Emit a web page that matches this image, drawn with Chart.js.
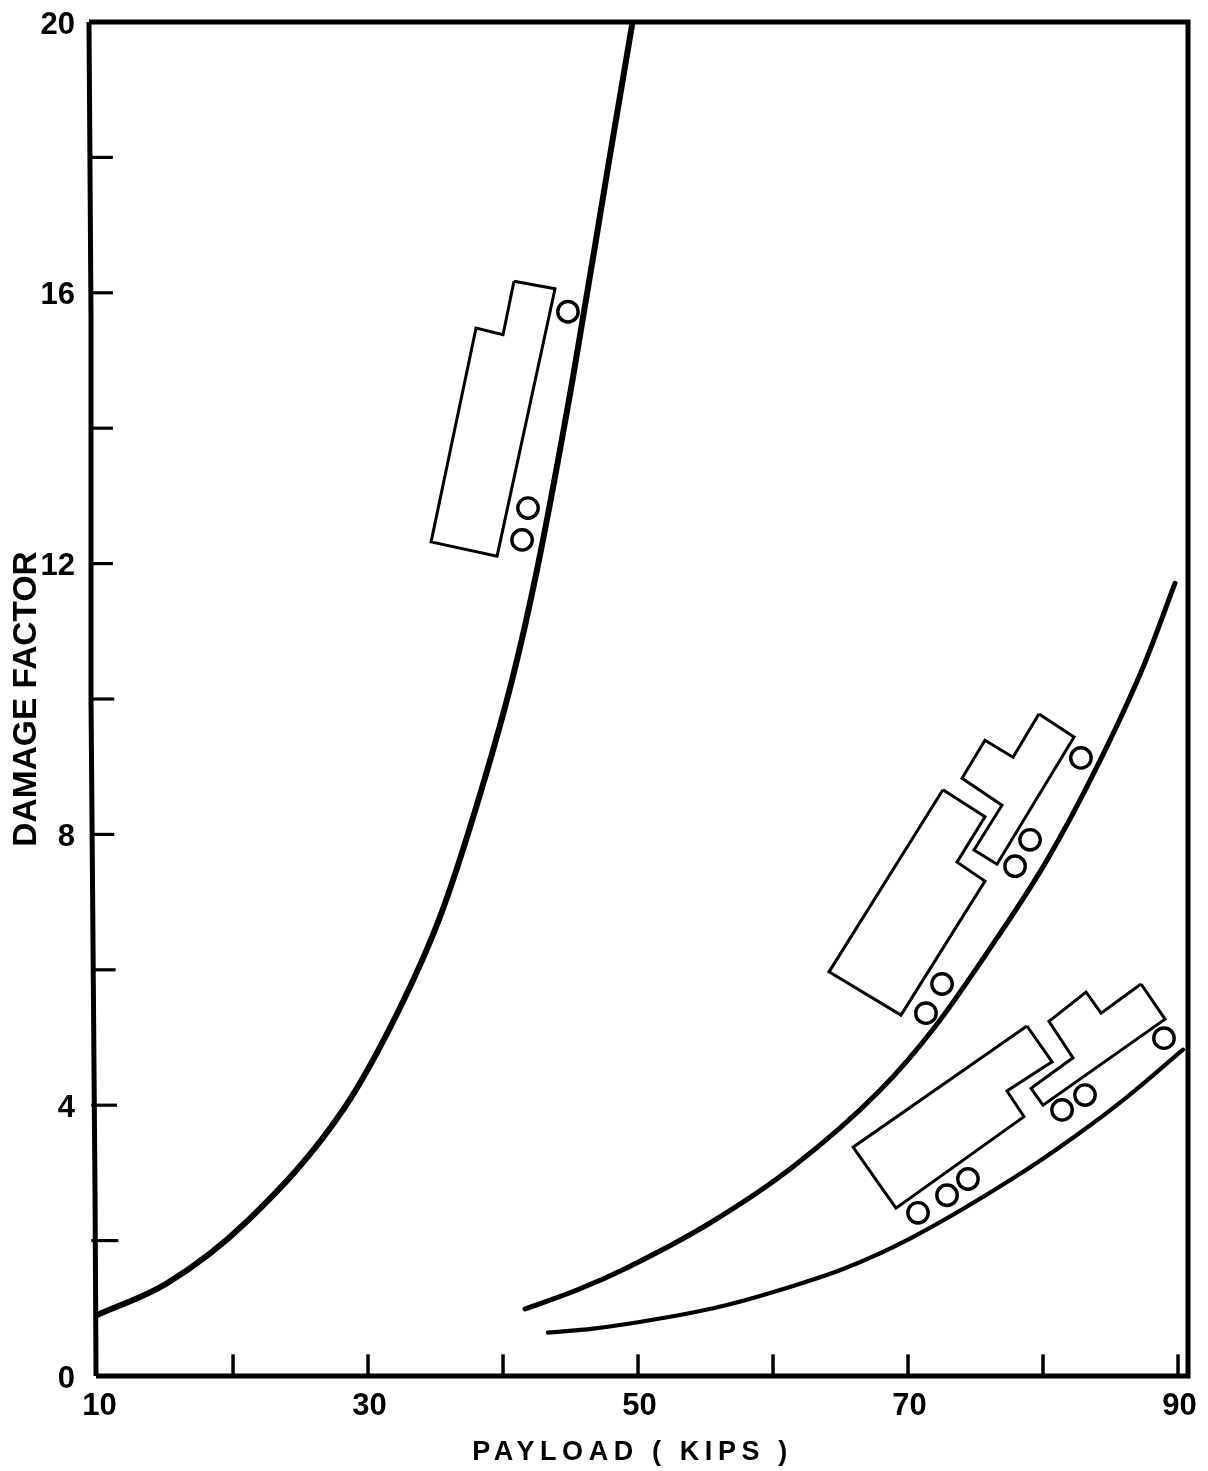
<!DOCTYPE html>
<html>
<head>
<meta charset="utf-8">
<title>Damage factor vs payload</title>
<style>
  html, body { margin: 0; padding: 0; background: #fff; }
  canvas { display: block; }
</style>
<script src="https://cdn.jsdelivr.net/npm/chart.js@4/dist/chart.umd.min.js"></script>
</head>
<body>
<canvas id="grafico" width="1208" height="1471"></canvas>
<script>
/* =========================
   DATA
========================= */
const xLabels = [10, 30, 50, 70, 90];
const yLabels = [0, 4, 8, 12, 16, 20];
const xMarks = [20, 30, 40, 50, 60, 70, 80, 90];
const yMarks = [2, 4, 6, 8, 10, 12, 14, 16, 18];
const yMarkEnd = [11.5, 11.4, 11.3, 11.2, 11.2, 11.1, 11.1, 11.1, 11.1];

const curveAx = [9.93, 15.11, 21.11, 28.15, 32.37, 35.33, 37.78, 40.67, 42.52, 45.19, 47.78, 49.56];
const curveAy = [0.9, 1.37, 2.3, 3.93, 5.44, 6.78, 8.25, 10.28, 11.91, 14.76, 17.86, 19.96];

const curveBx = [41.63, 45.48, 49.19, 55.33, 61.48, 67.93, 72, 75.85, 80.3, 84, 87.41, 89.78];
const curveBy = [0.99, 1.27, 1.6, 2.26, 3.09, 4.22, 5.16, 6.25, 7.62, 9, 10.47, 11.71];

const curveCx = [43.33, 46.67, 51.63, 56.59, 61.48, 65.19, 70.15, 77.78, 82.22, 86.22, 90.37];
const curveCy = [0.64, 0.7, 0.85, 1.05, 1.33, 1.58, 2.03, 2.92, 3.52, 4.12, 4.82];

// truck silhouettes
const truck1x = [40.81, 43.85, 39.56, 34.67, 38, 40, 40.81];
const truck1y = [16.17, 16.06, 12.11, 12.32, 15.48, 15.38, 16.17];
const wheels1x = [44.81, 41.85, 41.41];
const wheels1y = [15.72, 12.82, 12.35];

const trailer2x = [72.59, 75.7, 73.63, 75.7, 69.48, 64.15, 72.59];
const trailer2y = [8.66, 8.26, 7.59, 7.31, 5.33, 5.97, 8.66];
const tractor2x = [79.7, 82.3, 76.59, 74.89, 76.96, 74, 75.7, 77.78, 79.7];
const tractor2y = [9.78, 9.44, 7.56, 7.77, 8.43, 8.83, 9.39, 9.14, 9.78];
const wheels2x = [72.52, 71.33, 79.04, 77.93, 82.81];
const wheels2y = [5.79, 5.36, 7.92, 7.53, 9.13];

const trailer3x = [78.81, 80.67, 77.33, 78.59, 69.11, 65.93, 78.81];
const trailer3y = [5.17, 4.64, 4.21, 3.83, 2.48, 3.38, 5.17];
const tractor3x = [87.26, 89.04, 80, 79.11, 82.22, 80.44, 83.19, 84.3, 87.26];
const tractor3y = [5.79, 5.27, 4, 4.25, 4.7, 5.24, 5.67, 5.36, 5.79];
const wheels3x = [70.74, 72.89, 74.44, 81.41, 83.11, 88.96];
const wheels3y = [2.41, 2.67, 2.91, 3.93, 4.15, 4.99];

// hand drawn frame, the left edge leans a little
const leftEdgeX = [9.33, 9.48, 9.48, 9.78, 9.85];
const leftEdgeY = [20, 15.6, 10, 2.6, 0];
const restEdgeX = [9.33, 90.74, 90.74, 9.85];
const restEdgeY = [20, 20, 0, 0];

const X_MIN = 9.33, X_MAX = 90.74;
const INK = "#000";

/* =========================
   HELPERS
========================= */
function pts(xs, ys) {
  return xs.map((x, i) => ({ x, y: ys[i] }));
}

function linha(xs, ys, width, curva) {
  return {
    data: pts(xs, ys),
    showLine: true,
    borderColor: INK,
    borderWidth: width,
    pointRadius: 0,
    clip: false,
    borderCapStyle: curva ? "round" : "butt",
    borderJoinStyle: "miter",
    cubicInterpolationMode: curva ? "monotone" : "default",
    tension: 0
  };
}

function rodas(xs, ys) {
  return {
    data: pts(xs, ys),
    showLine: false,
    pointStyle: "circle",
    pointRadius: 10.2,
    pointBorderWidth: 3.4,
    pointBorderColor: INK,
    pointBackgroundColor: "rgba(255,255,255,0)",
    clip: false
  };
}

const datasets = [
  linha(leftEdgeX, leftEdgeY, 5),
  linha(restEdgeX, restEdgeY, 5),
  ...xMarks.map(v => linha([v, v], [0, 0.32], 3.5)),
  ...yMarks.map((v, i) => linha([9.5, yMarkEnd[i]], [v, v], 3.2)),
  linha(curveAx, curveAy, 6, true),
  linha(curveBx, curveBy, 5, true),
  linha(curveCx, curveCy, 4.2, true),
  linha(truck1x, truck1y, 3),
  linha(trailer2x, trailer2y, 3),
  linha(tractor2x, tractor2y, 3),
  linha(trailer3x, trailer3y, 3),
  linha(tractor3x, tractor3y, 3),
  rodas(wheels1x, wheels1y),
  rodas(wheels2x, wheels2y),
  rodas(wheels3x, wheels3y)
];

// the x title is widely lettered and sits left of centre
const tituloEspacado = {
  id: "tituloEspacado",
  beforeDraw(chart) {
    const s = chart.scales.x;
    if (s._espacado) return;
    s._espacado = true;
    const orig = s.drawTitle;
    s.drawTitle = function () {
      const ctx = this.ctx;
      ctx.save();
      ctx.letterSpacing = "5.6px";
      ctx.translate(-6, 0);
      orig.call(this);
      ctx.restore();
    };
  }
};

new Chart(document.getElementById("grafico"), {
  type: "scatter",
  data: { datasets },
  plugins: [tituloEspacado],
  options: {
    responsive: false,
    animation: false,
    devicePixelRatio: 1,
    layout: { padding: { top: 22, right: 20, left: 0, bottom: 0 } },
    plugins: { legend: { display: false }, tooltip: { enabled: false } },
    scales: {
      x: {
        type: "linear",
        min: X_MIN,
        max: X_MAX,
        afterBuildTicks: s => { s.ticks = xLabels.map(value => ({ value })); },
        afterFit: s => { s.height = 95; s.paddingLeft = 0; s.paddingRight = 0; },
        grid: { display: false, drawTicks: false },
        border: { display: false },
        ticks: {
          autoSkip: false,
          maxRotation: 0,
          padding: 12,
          labelOffset: 1.5,
          color: INK,
          font: { family: "Liberation Sans", size: 31, weight: "bold" }
        },
        title: {
          display: true,
          text: "PAYLOAD ( KIPS )",
          color: INK,
          padding: { top: 0, bottom: 2 },
          font: { family: "Liberation Sans", size: 27, weight: "bold" }
        }
      },
      y: {
        type: "linear",
        min: 0,
        max: 20,
        afterBuildTicks: s => { s.ticks = yLabels.map(value => ({ value })); },
        afterFit: s => { s.width = 89; s.paddingTop = 0; s.paddingBottom = 0; },
        grid: { display: false, drawTicks: false },
        border: { display: false },
        ticks: {
          autoSkip: false,
          padding: 14,
          labelOffset: 3,
          color: INK,
          font: { family: "Liberation Sans", size: 31, weight: "bold" }
        },
        title: {
          display: true,
          text: "DAMAGE FACTOR",
          color: INK,
          padding: { top: 7, bottom: 0 },
          font: { family: "Liberation Sans", size: 33.5, weight: "bold" }
        }
      }
    }
  }
});
</script>
</body>
</html>
